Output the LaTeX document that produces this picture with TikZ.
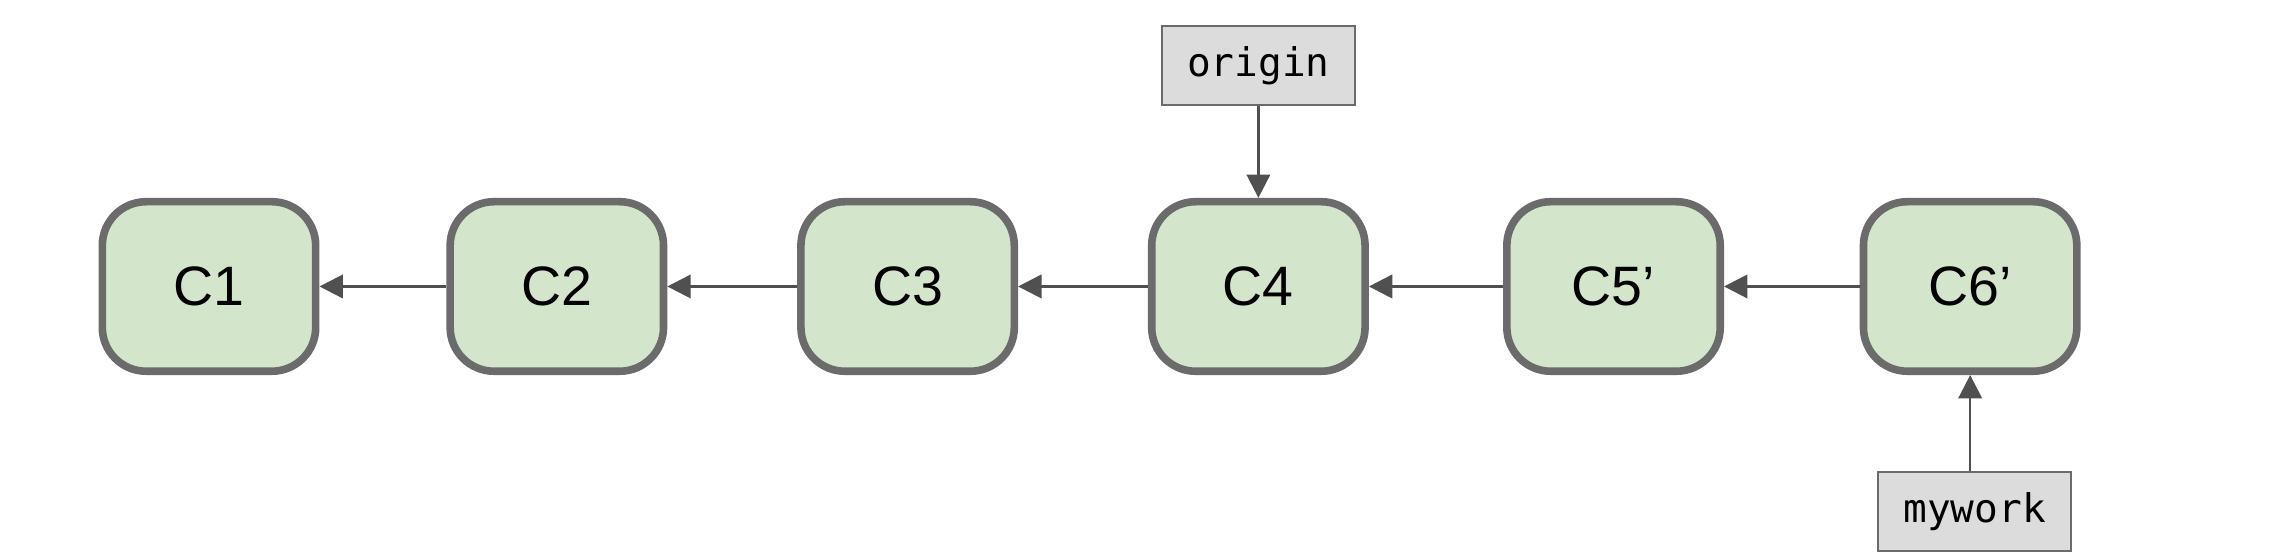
\documentclass[tikz,border=0pt]{standalone}
\usepackage{fontspec}
\setmainfont{Liberation Sans}
\newfontfamily\monof{DejaVu Sans Mono}
\usetikzlibrary{arrows.meta}
\definecolor{cfill}{HTML}{D3E6CB}
\definecolor{cbord}{HTML}{6B6B6B}
\definecolor{lfill}{HTML}{DCDCDC}
\definecolor{arr}{HTML}{505050}
\tikzset{
  commit/.style={draw=cbord, line width=2.6pt, fill=cfill, rounded corners=15pt,
    minimum width=73pt, minimum height=58pt, inner sep=0pt, font=\fontsize{19}{22}\selectfont},
  lbl/.style={draw=cbord, line width=0.7pt, fill=lfill, minimum width=66pt, minimum height=27pt,
    inner sep=0pt, font=\monof\fontsize{13.5}{16}\selectfont},
  conn/.style={draw=arr, line width=0.9pt, -{Triangle[length=8pt,width=8pt]}}
}
\begin{document}
\begin{tikzpicture}[x=0.5pt,y=-0.5pt]
\useasboundingbox (0,0) rectangle (1560,380.4);
\node[commit] (c1) at (143,196) {C1};
\node[commit] (c2) at (381,196) {C2};
\node[commit] (c3) at (621,196) {C3};
\node[commit] (c4) at (861,196) {C4};
\node[commit] (c5) at (1104,196) {C5'};
\node[commit] (c6) at (1348,196) {C6'};
\node[lbl] (origin) at (861,45) {origin};
\node[lbl] (mywork) at (1351,350) {mywork};
\draw[conn] (c2) -- (c1);
\draw[conn] (c3) -- (c2);
\draw[conn] (c4) -- (c3);
\draw[conn] (c5) -- (c4);
\draw[conn] (c6) -- (c5);
\draw[conn] (origin) -- (c4);
\draw[conn] (mywork.north -| c6) -- (c6);
\end{tikzpicture}
\end{document}
